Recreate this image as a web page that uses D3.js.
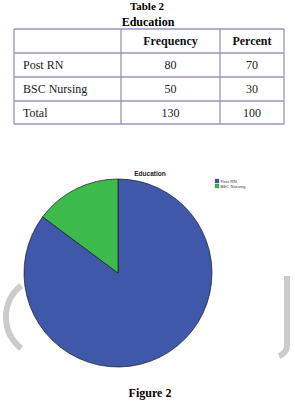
<!DOCTYPE html>
<html>
<head>
<meta charset="utf-8">
<script src="https://cdn.jsdelivr.net/npm/d3@7/dist/d3.min.js"></script>
<style>
  body { margin: 0; background: #fff; }
  svg { display: block; }
</style>
</head>
<body>
<div id="chart"></div>
<script>
// table data
const tableHeader = ["", "Frequency", "Percent"];
const rowLabels = ["Post RN", "BSC Nursing", "Total"];
const frequency = [80, 50, 130];
const percent = [70, 30, 100];

// pie data (as drawn in the figure)
const categories = ["Post RN", "BSC Nursing"];
const pieValues = [85.2, 14.8];
const colors = ["#3f58aa", "#3cba4b"];

const width = 295, height = 403;
const svg = d3.select("#chart").append("svg")
  .attr("width", width).attr("height", height);
svg.append("rect").attr("width", width).attr("height", height).attr("fill", "#fff");

const serif = "'Liberation Serif', 'Times New Roman', serif";

// titles
svg.append("text").attr("x", 147).attr("y", 9.5).attr("text-anchor", "middle")
  .style("font-family", serif).style("font-weight", "bold").style("font-size", "11px")
  .text("Table 2");
svg.append("text").attr("x", 148).attr("y", 26).attr("text-anchor", "middle")
  .style("font-family", serif).style("font-weight", "bold").style("font-size", "12px")
  .text("Education");

// table
const colEdges = [14, 121, 220, 284];
const rowEdges = [29, 53, 77, 101, 124];
const border = "#9a93bd";
const tbl = svg.append("g");

const rows = [tableHeader].concat(rowLabels.map((l, i) => [l, frequency[i], percent[i]]));

rowEdges.forEach(y => {
  tbl.append("line").attr("x1", colEdges[0]).attr("x2", colEdges[3])
    .attr("y1", y).attr("y2", y).attr("stroke", border).attr("stroke-width", 1.3);
});
colEdges.forEach(x => {
  tbl.append("line").attr("x1", x).attr("x2", x)
    .attr("y1", rowEdges[0]).attr("y2", rowEdges[4]).attr("stroke", border).attr("stroke-width", 1.3);
});

rows.forEach((r, i) => {
  const yMid = (rowEdges[i] + rowEdges[i + 1]) / 2;
  r.forEach((cell, j) => {
    const t = tbl.append("text")
      .attr("y", yMid + 4)
      .style("font-family", serif)
      .style("font-size", "12px")
      .attr("fill", "#222")
      .text(cell);
    if (i === 0) t.style("font-weight", "bold").attr("fill", "#111");
    if (j === 0) t.attr("x", colEdges[0] + 9);
    else t.attr("x", (colEdges[j] + colEdges[j + 1]) / 2).attr("text-anchor", "middle");
  });
});

// watermark decoration
const wm = svg.append("g").attr("fill", "none").attr("stroke", "#cbcbcb").attr("stroke-width", 6);
const lp = d3.path();
lp.arc(46, 317, 40, Math.PI + 0.9, Math.PI - 0.9, true);
wm.append("path").attr("d", lp.toString());
const rp = d3.path();
rp.moveTo(287, 276);
rp.lineTo(287, 345);
rp.quadraticCurveTo(287, 353, 279, 356);
wm.append("path").attr("d", rp.toString());

// pie chart
const cx = 118, cy = 273, radius = 94;
const pie = d3.pie().sort(null).value(d => d)(pieValues);
const arc = d3.arc().innerRadius(0).outerRadius(radius);
const color = d3.scaleOrdinal().domain(categories).range(colors);

svg.append("g").attr("transform", `translate(${cx},${cy})`)
  .selectAll("path").data(pie).join("path")
  .attr("d", arc)
  .attr("fill", (d, i) => color(categories[i]))
  .attr("stroke", "#1a1a1a")
  .attr("stroke-width", 0.7);

svg.append("text").attr("x", 150).attr("y", 176).attr("text-anchor", "middle")
  .style("font-family", "'Liberation Sans', Arial, sans-serif").style("font-weight", "bold")
  .style("font-size", "6.5px").attr("fill", "#222")
  .text("Education");

// legend
const legend = svg.append("g").attr("transform", "translate(215,179)");
categories.forEach((c, i) => {
  legend.append("rect").attr("x", 0).attr("y", i * 5).attr("width", 4).attr("height", 4)
    .attr("fill", color(c)).attr("stroke", "#333").attr("stroke-width", 0.2);
  legend.append("text").attr("x", 5.5).attr("y", i * 5 + 3.6)
    .style("font-family", "'Liberation Sans', Arial, sans-serif").style("font-size", "4.3px")
    .attr("fill", "#333").text(c);
});

// caption
svg.append("text").attr("x", 150).attr("y", 397).attr("text-anchor", "middle")
  .style("font-family", serif).style("font-weight", "bold").style("font-size", "12px")
  .text("Figure 2");
</script>
</body>
</html>
